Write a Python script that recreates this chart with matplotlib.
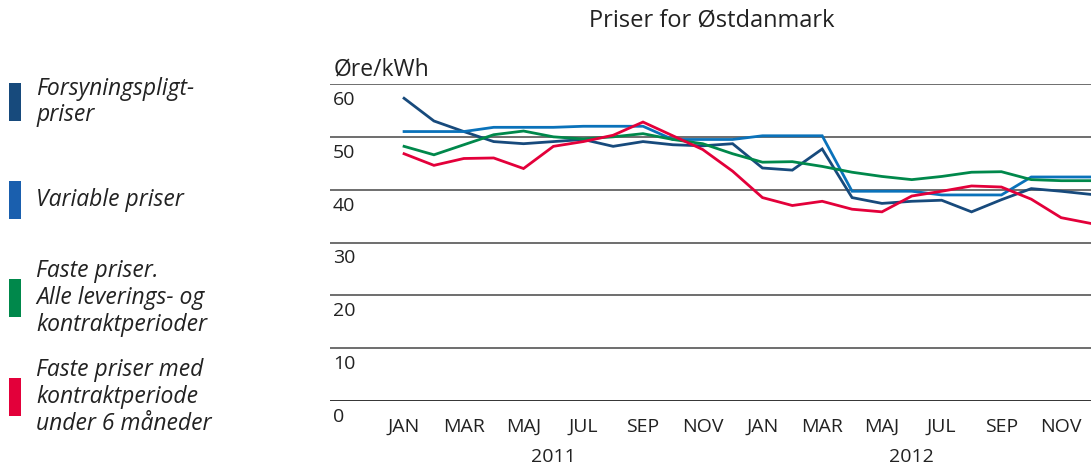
import matplotlib
matplotlib.use("Agg")
import matplotlib.pyplot as plt
import matplotlib.transforms as mtransforms
from matplotlib.patches import Rectangle

plt.rcParams["font.family"] = ["Open Sans", "DejaVu Sans"]

# --- data (øre/kWh, monthly jan 2011 - dec 2012) ---
months = list(range(24))
month_labels = ["JAN", "MAR", "MAJ", "JUL", "SEP", "NOV"] * 2
years = ["2011", "2012"]

forsyning = [57.3, 53.0, 51.0, 49.1, 48.7, 49.1, 49.5, 48.2, 49.1, 48.5, 48.3, 48.7,
             44.1, 43.7, 47.7, 38.5, 37.4, 37.8, 38.0, 35.8, 38.1, 40.2, 39.7, 39.1]
variable = [51.0, 51.0, 51.0, 51.8, 51.8, 51.8, 52.0, 52.0, 52.0, 49.5, 49.5, 49.5,
            50.2, 50.2, 50.2, 39.7, 39.7, 39.7, 39.0, 39.0, 39.0, 42.4, 42.4, 42.4]
faste_alle = [48.2, 46.6, 48.5, 50.4, 51.1, 50.0, 49.6, 50.0, 50.6, 49.5, 48.7, 46.8,
              45.2, 45.3, 44.4, 43.3, 42.5, 41.9, 42.5, 43.3, 43.4, 41.9, 41.7, 41.7]
faste_kort = [46.8, 44.6, 45.9, 46.0, 44.0, 48.2, 49.1, 50.3, 52.8, 50.2, 47.6, 43.5,
              38.5, 37.0, 37.8, 36.3, 35.8, 38.8, 39.7, 40.7, 40.5, 38.2, 34.7, 33.6]

series = [forsyning, variable, faste_alle, faste_kort]
colors = ["#174a7c", "#0a72ba", "#00884b", "#e3003a"]
legend_colors = ["#174a7c", "#1a5fae", "#00884b", "#e3003a"]
legend_texts = ["Forsyningspligt-\npriser", "Variable priser",
                "Faste priser.\nAlle leverings- og\nkontraktperioder",
                "Faste priser med\nkontraktperiode\nunder 6 måneder"]

W, H = 1091, 470
fig = plt.figure(figsize=(W / 100, H / 100), dpi=100)

# plot area
ax = fig.add_axes([330 / W, 1 - 401 / H, 761 / W, 317 / H])
ax.set_xlim(-2.48, 23.0)
ax.set_ylim(0, 60)
for s in ax.spines.values():
    s.set_visible(False)
ax.set_xticks([])
ax.set_yticks([])

for v in range(10, 61, 10):
    ax.axhline(v, color="#555555", lw=1.2, zorder=1)
ax.axhline(0, color="#111111", lw=1.2, zorder=1)

for vals, c in zip(series, colors):
    ax.plot(months, vals, color=c, lw=2.0, zorder=3, solid_joinstyle="miter")

# y tick labels, left aligned below the gridlines
trans = mtransforms.blended_transform_factory(ax.transAxes, ax.transData)
for v in range(0, 61, 10):
    ax.text(0.004, v - 3.0, str(v), transform=trans, ha="left", va="center",
            fontsize=14, color="#222222")

# x labels
for i, lab in enumerate(month_labels):
    ax.text(months[i * 2], -4.9, lab, ha="center", va="center", fontsize=14,
            color="#222222")
for j, yr in enumerate(years):
    ax.text(months[5 + 12 * j], -10.6, yr, ha="center", va="center", fontsize=14,
            color="#222222")

fig.text(334 / W, 1 - 76 / H, "Øre/kWh", ha="left", va="baseline",
         fontsize=16.5, color="#222222")
fig.text(712 / W, 1 - 27 / H, "Priser for Østdanmark", ha="center", va="baseline",
         fontsize=17, color="#222222")

# legend
rect_tops = [83, 181, 279, 378]
for top, c, txt in zip(rect_tops, legend_colors, legend_texts):
    fig.add_artist(Rectangle((9 / W, 1 - (top + 38) / H), 12 / W, 38 / H,
                             transform=fig.transFigure, color=c, lw=0))
    fig.text(36 / W, 1 - (top + 19) / H, txt, ha="left", va="center",
             fontsize=16.5, style="italic", color="#222222", linespacing=1.15)

fig.savefig("out.png", dpi=100)
